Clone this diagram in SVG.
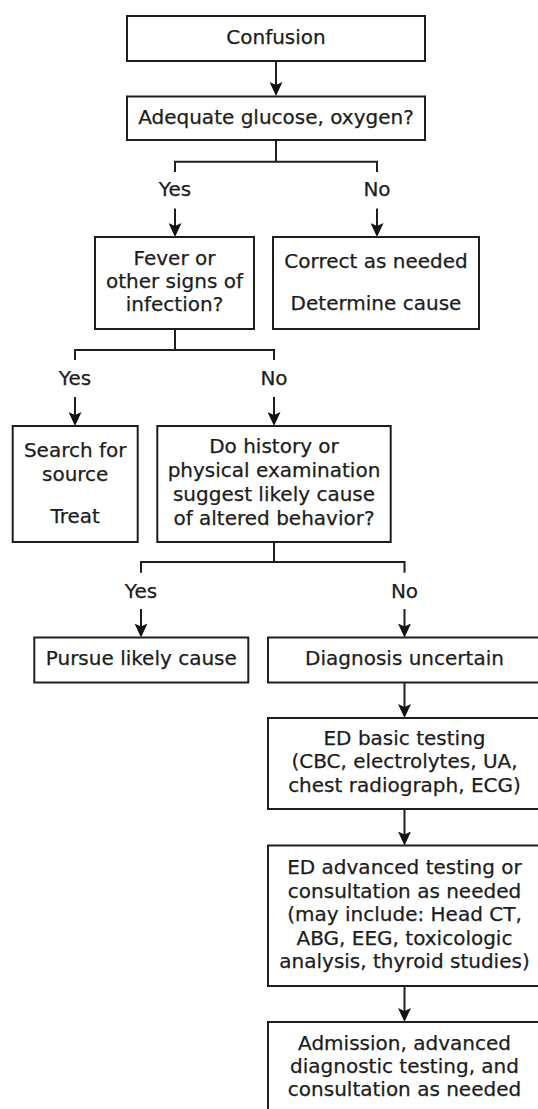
<svg xmlns="http://www.w3.org/2000/svg" width="538" height="1109" viewBox="0 0 538 1109">
  <defs>
    <style>
      .box { fill: #ffffff; stroke: #1e1e1e; stroke-width: 2; }
      .link { fill: none; stroke: #1e1e1e; stroke-width: 2; }
      text { font-family: "DejaVu Sans", Verdana, "Liberation Sans", sans-serif; font-size: 20px; fill: #1c1c1c; stroke: #1c1c1c; stroke-width: 0.25; text-anchor: middle; }
    </style>
    <marker id="arrow" viewBox="0 0 14 13" refX="4" refY="6.5" markerWidth="14" markerHeight="13" markerUnits="userSpaceOnUse" orient="auto">
      <path d="M0,0 L14,6.5 L0,13 L3,6.5 z" fill="#111111"/>
    </marker>
  </defs>
  <rect width="538" height="1109" fill="#ffffff"/>

  <!-- connectors: straight arrows, branch brackets and their Yes/No labels -->
  <g id="connectors">
    <line class="link" x1="276" y1="61" x2="276" y2="86" marker-end="url(#arrow)"/>
    <path class="link" d="M276,140 V161.7 M175,172 V161.7 H377 V172"/>
    <line class="link" x1="175" y1="208.5" x2="175" y2="227" marker-end="url(#arrow)"/>
    <line class="link" x1="377" y1="208.5" x2="377" y2="227" marker-end="url(#arrow)"/>
    <path class="link" d="M175,329 V350 M75,360 V350 H274 V360"/>
    <line class="link" x1="75" y1="397" x2="75" y2="416" marker-end="url(#arrow)"/>
    <line class="link" x1="274" y1="397" x2="274" y2="416" marker-end="url(#arrow)"/>
    <path class="link" d="M274,542 V562 M141,572.7 V562 H404.5 V572.7"/>
    <line class="link" x1="141" y1="609" x2="141" y2="627.5" marker-end="url(#arrow)"/>
    <line class="link" x1="404.5" y1="609" x2="404.5" y2="627.5" marker-end="url(#arrow)"/>
    <line class="link" x1="404.5" y1="682.5" x2="404.5" y2="708" marker-end="url(#arrow)"/>
    <line class="link" x1="404.5" y1="809" x2="404.5" y2="835.5" marker-end="url(#arrow)"/>
    <line class="link" x1="404.5" y1="986" x2="404.5" y2="1012" marker-end="url(#arrow)"/>
    <text x="175" y="196">Yes</text>
    <text x="377" y="196">No</text>
    <text x="75" y="384.5">Yes</text>
    <text x="274" y="384.5">No</text>
    <text x="141" y="597.5">Yes</text>
    <text x="404.5" y="597.5">No</text>
  </g>

  <g id="confusion">
    <rect class="box" x="127" y="16" width="298" height="45"/>
    <text x="276" y="44">Confusion</text>
  </g>

  <g id="glucose-oxygen">
    <rect class="box" x="127" y="96.5" width="298" height="43.5"/>
    <text x="276" y="124">Adequate glucose, oxygen?</text>
  </g>

  <g id="fever">
    <rect class="box" x="95" y="237" width="159" height="92"/>
    <text x="174.5" y="265">Fever or</text>
    <text x="174.5" y="288">other signs of</text>
    <text x="174.5" y="311">infection?</text>
  </g>

  <g id="correct">
    <rect class="box" x="273" y="237" width="206" height="92"/>
    <text x="376" y="268">Correct as needed</text>
    <text x="376" y="310">Determine cause</text>
  </g>

  <g id="search-source">
    <rect class="box" x="12.7" y="426" width="125" height="116"/>
    <text x="75.2" y="457">Search for</text>
    <text x="75.2" y="481">source</text>
    <text x="75.2" y="523">Treat</text>
  </g>

  <g id="history-exam">
    <rect class="box" x="157.3" y="426" width="233.4" height="116"/>
    <text x="274" y="453">Do history or</text>
    <text x="274" y="477">physical examination</text>
    <text x="274" y="501">suggest likely cause</text>
    <text x="274" y="524.5">of altered behavior?</text>
  </g>

  <g id="pursue-cause">
    <rect class="box" x="34.3" y="637.5" width="214" height="45"/>
    <text x="141.3" y="665">Pursue likely cause</text>
  </g>

  <!-- right-hand column runs past the right edge of the canvas -->
  <g id="diagnosis-uncertain">
    <rect class="box" x="268" y="637.5" width="274" height="45"/>
    <text x="404.5" y="665">Diagnosis uncertain</text>
  </g>

  <g id="basic-testing">
    <rect class="box" x="268" y="718" width="274" height="91"/>
    <text x="404.5" y="745">ED basic testing</text>
    <text x="404.5" y="768.3">(CBC, electrolytes, UA,</text>
    <text x="404.5" y="791.7">chest radiograph, ECG)</text>
  </g>

  <g id="advanced-testing">
    <rect class="box" x="268" y="845.5" width="274" height="140.5"/>
    <text x="404.5" y="874">ED advanced testing or</text>
    <text x="404.5" y="897.5">consultation as needed</text>
    <text x="404.5" y="921">(may include: Head CT,</text>
    <text x="404.5" y="944.5">ABG, EEG, toxicologic</text>
    <text x="404.5" y="968">analysis, thyroid studies)</text>
  </g>

  <g id="admission">
    <rect class="box" x="268" y="1022" width="274" height="100"/>
    <text x="404.5" y="1050">Admission, advanced</text>
    <text x="404.5" y="1073.3">diagnostic testing, and</text>
    <text x="404.5" y="1095.7">consultation as needed</text>
  </g>
</svg>
